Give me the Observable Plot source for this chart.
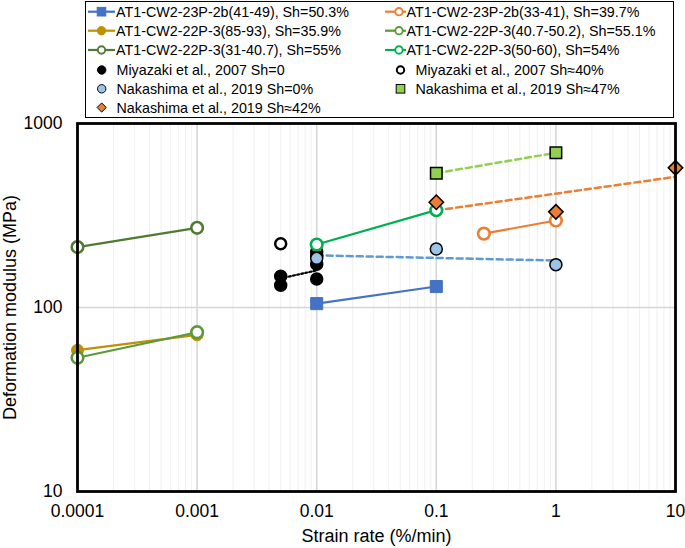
<!DOCTYPE html>
<html>
<head>
<meta charset="utf-8">
<script src="https://cdn.jsdelivr.net/npm/d3@7"></script>
<script src="https://cdn.jsdelivr.net/npm/@observablehq/plot@0.6"></script>
<style>
  body { margin: 0; background: #fff; font-family: "Liberation Sans", Arial, sans-serif; }
  #wrap { position: relative; width: 685px; height: 548px; }
  #legend { position: absolute; left: 85px; top: 1px; width: 589px; height: 117px;
            border: 1.5px solid #000; box-sizing: border-box; background: #fff; }
  .lt { position: absolute; height: 18px; line-height: 18px; font-size: 14.3px; color: #000; white-space: nowrap; }
</style>
</head>
<body>
<div id="wrap"><div id="chart"></div></div>
<script>
// ---- data ----
const xTicks = [0.0001, 0.001, 0.01, 0.1, 1, 10];
const yTicks = [10, 100, 1000];

const blueX = [0.01, 0.1],            blueY = [105, 130];          // AT1-CW2-23P-2b(41-49)
const orangeX = [0.25, 1],            orangeY = [252, 297];        // AT1-CW2-23P-2b(33-41)
const goldX = [0.0001, 0.001],        goldY = [58.6, 71];          // 22P-3(85-93)
const green551X = [0.0001, 0.001],    green551Y = [53.3, 73.4];    // 22P-3(40.7-50.2)
const green55X = [0.0001, 0.001],     green55Y = [213, 271];       // 22P-3(31-40.7)
const green54X = [0.01, 0.1],         green54Y = [220, 338];       // 22P-3(50-60)

const miya0X = [0.005, 0.005, 0.01, 0.01], miya0Y = [148, 132, 172, 143];
const miya40X = [0.005, 0.01, 0.01],       miya40Y = [222, 201, 190];
const nak0X = [0.01, 0.1, 1],              nak0Y = [185, 208, 171];
const nak47X = [0.1, 1],                   nak47Y = [537, 693];
const nak42X = [0.1, 1, 10],               nak42Y = [373, 331, 574];

// trend lines
const miyaTrendX = [0.005, 0.01],  miyaTrendY = [144, 159];
const nak0TrendX = [0.01, 1],      nak0TrendY = [192, 180];
const nak47TrendX = [0.1, 1],      nak47TrendY = [537, 693];
const nak42TrendX = [0.1, 10],     nak42TrendY = [337, 513];

const legendLabels = [
  "AT1-CW2-23P-2b(41-49), Sh=50.3%", "AT1-CW2-23P-2b(33-41), Sh=39.7%",
  "AT1-CW2-22P-3(85-93), Sh=35.9%", "AT1-CW2-22P-3(40.7-50.2), Sh=55.1%",
  "AT1-CW2-22P-3(31-40.7), Sh=55%", "AT1-CW2-22P-3(50-60), Sh=54%",
  "Miyazaki et al., 2007 Sh=0", "Miyazaki et al., 2007 Sh≈40%",
  "Nakashima et al., 2019 Sh=0%", "Nakashima et al., 2019 Sh≈47%",
  "Nakashima et al., 2019 Sh≈42%"
];

// ---- styles ----
const C = {
  blue: "#4472C4", orange: "#ED7D31", gold: "#BF9000", g551: "#5A9A3A", g55: "#4E7A32",
  g54: "#00B050", lblue: "#9DC3E6", lgreen: "#92D050", dblue: "#5B9BD5"
};

const zip = (xs, ys) => xs.map((x, i) => ({x, y: ys[i]}));

const lineSeries = [
  {d: zip(green55X, green55Y), c: C.g55, sym: "circle", fill: "white"},
  {d: zip(goldX, goldY), c: C.gold, sym: "circle", fill: C.gold},
  {d: zip(green551X, green551Y), c: C.g551, sym: "circle", fill: "white"},
  {d: zip(blueX, blueY), c: C.blue, sym: "square", fill: C.blue},
  {d: zip(green54X, green54Y), c: C.g54, sym: "circle", fill: "white"},
  {d: zip(orangeX, orangeY), c: C.orange, sym: "circle", fill: "white"},
];

const marks = [
  Plot.gridX(d3.scaleLog().domain([1e-4, 10]).ticks(), {stroke: "#f0f0f0", strokeOpacity: 1, strokeWidth: 1}),
  Plot.gridX(xTicks, {stroke: "#d6d6d6", strokeOpacity: 1, strokeWidth: 1.5}),
  Plot.gridY(yTicks, {stroke: "#d6d6d6", strokeOpacity: 1, strokeWidth: 1.5}),
  Plot.axisX({ticks: xTicks, tickSize: 0, tickPadding: 13, fontSize: 17.5,
    tickFormat: d => String(d), label: null}),
  Plot.axisX({ticks: [], label: "Strain rate (%/min)", labelAnchor: "center", fontSize: 18,
    labelArrow: "none", labelOffset: 50}),
  Plot.axisY({ticks: yTicks, tickSize: 0, tickPadding: 15, fontSize: 17.5,
    tickFormat: d => String(d), label: null}),
  Plot.axisY({ticks: [], label: "Deformation modulus (MPa)", labelAnchor: "center", fontSize: 18,
    labelArrow: "none", labelOffset: 74}),
  // trend lines
  Plot.line(zip(nak0TrendX, nak0TrendY), {x: "x", y: "y", stroke: C.dblue, strokeWidth: 2.5, strokeDasharray: "6,4"}),
  Plot.line(zip(nak47TrendX, nak47TrendY), {x: "x", y: "y", stroke: C.lgreen, strokeWidth: 2.5, strokeDasharray: "6,4"}),
  Plot.line(zip(nak42TrendX, nak42TrendY), {x: "x", y: "y", stroke: C.orange, strokeWidth: 2.5, strokeDasharray: "6,4"}),
  Plot.line(zip(miyaTrendX, miyaTrendY), {x: "x", y: "y", stroke: "#000", strokeWidth: 2.2, strokeDasharray: "2,2.2"}),
];
for (const s of lineSeries) {
  marks.push(Plot.line(s.d, {x: "x", y: "y", stroke: s.c, strokeWidth: 2.2}));
}
marks.push(
  Plot.dot(zip(miya0X, miya0Y), {x: "x", y: "y", r: 6, fill: "#000", stroke: "#000"}),
  Plot.dot(zip(miya40X, miya40Y), {x: "x", y: "y", r: 5.5, fill: "white", stroke: "#000", strokeWidth: 2.5}),
);
for (const s of lineSeries) {
  const sq = s.sym === "square";
  marks.push(Plot.dot(s.d, {x: "x", y: "y", symbol: s.sym, r: sq ? 6.8 : (s.fill === "white" ? 5.8 : 6),
    fill: s.fill, stroke: s.c, strokeWidth: s.fill === "white" ? 2.6 : 1}));
}
marks.push(
  Plot.dot(zip(nak0X, nak0Y), {x: "x", y: "y", r: 6, fill: C.lblue, stroke: "#000", strokeWidth: 1.5}),
  Plot.dot(zip(nak47X, nak47Y), {x: "x", y: "y", symbol: "square", r: 6.5, fill: C.lgreen, stroke: "#000", strokeWidth: 1.5}),
  Plot.dot(zip(nak42X, nak42Y), {x: "x", y: "y", symbol: "diamond2", r: 6.5, fill: C.orange, stroke: "#000", strokeWidth: 1.5}),
  Plot.frame({stroke: "#000", strokeWidth: 2.8})
);

const chart = Plot.plot({
  width: 685, height: 548,
  marginLeft: 77, marginRight: 10, marginTop: 123, marginBottom: 57,
  style: {fontFamily: "'Liberation Sans', Arial, sans-serif", fontSize: "17.5px", color: "#000", background: "white"},
  x: {type: "log", domain: [1e-4, 10]},
  y: {type: "log", domain: [10, 1000]},
  marks
});
const wrap = document.getElementById("wrap");
wrap.append(chart);

// ---- legend (page coordinates) ----
const legendMarkers = [
  {c: C.blue, line: true, sym: "square", fill: C.blue},
  {c: C.orange, line: true, sym: "circle", fill: "white"},
  {c: C.gold, line: true, sym: "circle", fill: C.gold},
  {c: C.g551, line: true, sym: "circle", fill: "white"},
  {c: C.g55, line: true, sym: "circle", fill: "white"},
  {c: C.g54, line: true, sym: "circle", fill: "white"},
  {c: "#000", line: false, sym: "circle", fill: "#000"},
  {c: "#000", line: false, sym: "circle", fill: "white", sw: 2},
  {c: "#000", line: false, sym: "circle", fill: C.lblue, sw: 1},
  {c: "#000", line: false, sym: "square", fill: C.lgreen, sw: 1},
  {c: "#000", line: false, sym: "diamond", fill: C.orange, sw: 1},
];
const legendCols = [
  {x1: 88, x2: 115, mLine: 101.5, tLine: 116, mDot: 101.7, tDot: 116.5},
  {x1: 385, x2: 406, mLine: 399, tLine: 406.5, mDot: 400.5, tDot: 415.5}
];
const legendRowY = [11.7, 30.7, 50, 70, 88.8, 107.5];

const ns = "http://www.w3.org/2000/svg";
const legBox = document.createElement("div");
legBox.id = "legend";
wrap.append(legBox);
const lsvg = document.createElementNS(ns, "svg");
lsvg.setAttribute("width", 685); lsvg.setAttribute("height", 120);
lsvg.style.position = "absolute"; lsvg.style.left = "0px"; lsvg.style.top = "0px";
wrap.append(lsvg);
legendLabels.forEach((lab, i) => {
  const m = legendMarkers[i];
  const col = legendCols[i % 2];
  const cy = legendRowY[Math.floor(i / 2)];
  const mx = m.line ? col.mLine : col.mDot;
  const tx = m.line ? col.tLine : col.tDot;
  if (m.line) {
    const l = document.createElementNS(ns, "line");
    l.setAttribute("x1", col.x1); l.setAttribute("x2", col.x2);
    l.setAttribute("y1", cy); l.setAttribute("y2", cy);
    l.setAttribute("stroke", m.c); l.setAttribute("stroke-width", 2.2);
    lsvg.append(l);
  }
  let s;
  if (m.sym === "circle") {
    s = document.createElementNS(ns, "circle");
    s.setAttribute("cx", mx); s.setAttribute("cy", cy);
    s.setAttribute("r", m.fill === "white" ? 3.7 : 4.2);
  } else if (m.sym === "square") {
    s = document.createElementNS(ns, "rect");
    s.setAttribute("x", mx - 4.3); s.setAttribute("y", cy - 4.3);
    s.setAttribute("width", 8.6); s.setAttribute("height", 8.6);
  } else {
    s = document.createElementNS(ns, "path");
    s.setAttribute("d", `M${mx},${cy - 4.6} L${mx + 4.6},${cy} L${mx},${cy + 4.6} L${mx - 4.6},${cy} Z`);
  }
  s.setAttribute("fill", m.fill); s.setAttribute("stroke", m.c);
  s.setAttribute("stroke-width", m.sw != null ? m.sw : (m.fill === "white" ? 1.9 : 1));
  lsvg.append(s);
  const t = document.createElement("div");
  t.className = "lt";
  t.textContent = lab;
  t.style.left = tx + "px";
  t.style.top = (cy - 9) + "px";
  wrap.append(t);
});
</script>
</body>
</html>
